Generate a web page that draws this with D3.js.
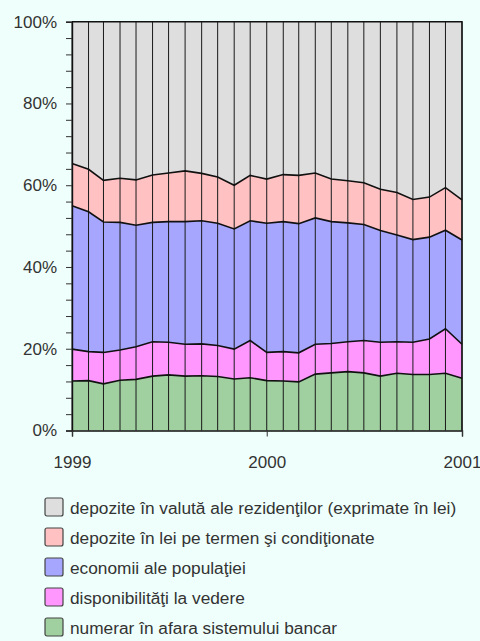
<!DOCTYPE html>
<html>
<head>
<meta charset="utf-8">
<script src="https://cdn.jsdelivr.net/npm/d3@7"></script>
<style>
  html, body { margin: 0; padding: 0; background: #effffb; }
  svg { display: block; font-family: "Liberation Sans", Arial, sans-serif; }
</style>
</head>
<body>
<svg id="chart" width="480" height="641"></svg>
<script>
// monthly shares, % of total (Jan 1999 .. Jan 2001)
const months = d3.range(25).map(i => new Date(1999, i, 1));

const numerar = [12.1, 12.2, 11.4, 12.3, 12.5, 13.3, 13.6, 13.3, 13.4, 13.2, 12.6, 12.9,
  12.2, 12.1, 11.9, 13.8, 14.1, 14.4, 14.1, 13.3, 14.0, 13.7, 13.7, 14.0, 12.8];
const disponibilitati = [7.8, 7.1, 7.7, 7.4, 8.0, 8.4, 8.0, 7.8, 7.8, 7.6, 7.3, 9.1,
  6.9, 7.2, 7.1, 7.3, 7.2, 7.3, 7.9, 8.3, 7.7, 7.9, 8.7, 10.9, 8.3];
const economii = [35.1, 34.2, 31.9, 31.2, 29.7, 29.2, 29.5, 30.0, 30.1, 29.9, 29.4, 29.3,
  31.6, 31.8, 31.6, 30.9, 29.8, 29.1, 28.4, 27.3, 26.1, 25.1, 24.9, 24.1, 25.5];
const depoziteLei = [10.3, 10.4, 10.2, 10.8, 11.1, 11.6, 11.9, 12.4, 11.6, 11.3, 10.7, 11.1,
  10.8, 11.5, 11.8, 11.0, 10.4, 10.3, 10.2, 10.1, 10.4, 9.8, 9.8, 10.4, 9.8];
const depoziteValuta = [34.7, 36.1, 38.8, 38.3, 38.7, 37.5, 37.0, 36.5, 37.1, 38.0, 40.0, 37.6,
  38.5, 37.4, 37.6, 37.0, 38.5, 38.9, 39.4, 41.0, 41.8, 43.5, 42.9, 40.6, 43.6];

// bottom to top
const seriesKeys = ["numerar", "disponibilitati", "economii", "depoziteLei", "depoziteValuta"];
const seriesLabels = {
  numerar: "numerar în afara sistemului bancar",
  disponibilitati: "disponibilităţi la vedere",
  economii: "economii ale populaţiei",
  depoziteLei: "depozite în lei pe termen şi condiţionate",
  depoziteValuta: "depozite în valută ale rezidenţilor (exprimate în lei)"
};
const colors = {
  numerar: "#a0cfa0",
  disponibilitati: "#ff97ff",
  economii: "#a6a6ff",
  depoziteLei: "#ffc1c1",
  depoziteValuta: "#dedede"
};
const yTickLabels = [0, 20, 40, 60, 80, 100];

const table = months.map((date, i) => ({
  date,
  numerar: numerar[i],
  disponibilitati: disponibilitati[i],
  economii: economii[i],
  depoziteLei: depoziteLei[i],
  depoziteValuta: depoziteValuta[i]
}));

const svg = d3.select("#chart");
const plot = { left: 72, right: 462, top: 21.7, bottom: 430.5 };

const x = d3.scaleTime()
  .domain([months[0], months[months.length - 1]])
  .range([plot.left, plot.right]);
const y = d3.scaleLinear().domain([0, 100]).range([plot.bottom, plot.top]);

const stacked = d3.stack().keys(seriesKeys)(table);

const area = d3.area()
  .x(d => x(d.data.date))
  .y0(d => y(d[0]))
  .y1(d => y(d[1]));

const line = d3.line()
  .x(d => x(d.data.date))
  .y(d => y(d[1]));

svg.append("g").selectAll("path")
  .data(stacked)
  .join("path")
  .attr("d", area)
  .attr("fill", d => colors[d.key]);

// month separators
svg.append("g").selectAll("line")
  .data(months)
  .join("line")
  .attr("x1", d => x(d)).attr("x2", d => x(d))
  .attr("y1", plot.top).attr("y2", plot.bottom)
  .attr("stroke", "#1a1a1a")
  .attr("stroke-width", 1);

// boundary lines between layers
svg.append("g").selectAll("path")
  .data(stacked.slice(0, -1))
  .join("path")
  .attr("d", line)
  .attr("fill", "none")
  .attr("stroke", "#111")
  .attr("stroke-width", 1.6);

// frame
svg.append("path")
  .attr("d", `M${plot.left},${plot.top}H${plot.right}V${plot.bottom}`)
  .attr("fill", "none")
  .attr("stroke", "#111")
  .attr("stroke-width", 1.4);

// y axis
const yAxis = svg.append("g")
  .attr("transform", `translate(${plot.left},0)`)
  .call(d3.axisLeft(y)
    .tickValues(d3.range(0, 101, 4))
    .tickSize(6)
    .tickFormat(d => yTickLabels.includes(d) ? d + "%" : ""));
yAxis.select(".domain").attr("stroke", "#111").attr("stroke-width", 1.4);
yAxis.selectAll(".tick line").attr("stroke", "#333");
yAxis.selectAll("text")
  .attr("x", -15)
  .attr("font-size", 17)
  .attr("fill", "#333")
  .attr("font-family", "Liberation Sans, Arial, sans-serif");

// x axis
const xAxis = svg.append("g")
  .attr("transform", `translate(0,${plot.bottom})`)
  .call(d3.axisBottom(x)
    .ticks(d3.timeYear.every(1))
    .tickSize(6)
    .tickFormat(d3.timeFormat("%Y")));
xAxis.select(".domain").attr("stroke", "#111").attr("stroke-width", 1.4);
xAxis.selectAll(".tick line").attr("stroke", "#333");
xAxis.selectAll("text")
  .attr("y", 25)
  .attr("dy", "0.71em")
  .attr("font-size", 17)
  .attr("fill", "#333")
  .attr("font-family", "Liberation Sans, Arial, sans-serif");

// legend
const legendKeys = seriesKeys.slice().reverse();
const legend = svg.append("g")
  .selectAll("g")
  .data(legendKeys)
  .join("g")
  .attr("transform", (d, i) => `translate(45,${498 + i * 30})`);

legend.append("rect")
  .attr("width", 18).attr("height", 18)
  .attr("rx", 2)
  .attr("fill", d => colors[d])
  .attr("stroke", "#444")
  .attr("stroke-width", 1.2);

legend.append("text")
  .attr("x", 25)
  .attr("y", 15.5)
  .attr("font-size", 17.3)
  .attr("fill", "#333")
  .text(d => seriesLabels[d]);
</script>
</body>
</html>
